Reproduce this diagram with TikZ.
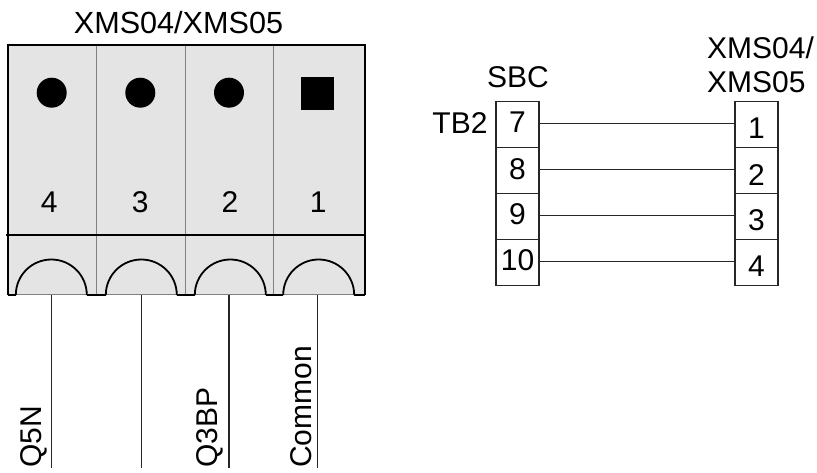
\documentclass[tikz,border=0pt]{standalone}
\usepackage{fontspec}
\setmainfont{Liberation Sans}
\definecolor{cellgray}{HTML}{E4E4E4}

\tikzset{
	heavy/.style={draw=black, line width=1.8pt},
	divider/.style={draw=gray, line width=1pt},
	wire/.style={draw=black!85, line width=1.1pt},
	txt/.style={inner sep=0pt, font=\fontsize{30}{31}\selectfont},
	hole/.style={circle, fill=black, minimum size=30pt, inner sep=0pt},
	pinbox/.style={rectangle, draw=black!85, line width=1.1pt, minimum width=43pt, minimum height=46pt, inner sep=0pt}
}

\newcommand{\xmsdome}[1]{
	\pgfmathsetmacro{\DMa}{#1 - 35.5}
	\draw[heavy] (\DMa, 295) arc[start angle=180, end angle=0, x radius=35.5, y radius=-35.5];
}

\begin{document}
\begin{tikzpicture}[x=1pt, y=-1pt]
\useasboundingbox (0,0) rectangle (817,473);

\pgfmathsetmacro{\xmsL}{7.7}
\pgfmathsetmacro{\xmsR}{365}
\pgfmathsetmacro{\sbcX}{517.5}
\pgfmathsetmacro{\xmsX}{756.5}

% connector block
\fill[cellgray] (\xmsL,45) rectangle (\xmsR,295);
\draw[divider] (96.7,45) -- (96.7,295);
\draw[divider] (185,45) -- (185,295);
\draw[divider] (273.7,45) -- (273.7,295);
\draw[divider] (\xmsL,295) -- (\xmsR,295);
\draw[heavy] (\xmsL,295) -- (\xmsL,45) -- (\xmsR,45) -- (\xmsR,295);
\draw[heavy] (6,235) -- (\xmsR,235);
\draw[heavy] (\xmsL,295) -- (15.8,295);
\draw[heavy] (86.8,295) -- (105.8,295);
\draw[heavy] (176.8,295) -- (194.8,295);
\draw[heavy] (265.8,295) -- (283.2,295);
\draw[heavy] (354.2,295) -- (\xmsR,295);

\xmsdome{51.3}
\xmsdome{141.3}
\xmsdome{230.3}
\xmsdome{318.7}

\node[hole] (holeD) at (51.7,92.7) {};
\node[hole] (holeC) at (140.3,92.7) {};
\node[hole] (holeB) at (229,92.7) {};
\node[rectangle, fill=black, minimum size=33pt, inner sep=0pt] (holeA) at (317.8,93.6) {};

\node[txt, font=\fontsize{30.6}{31}\selectfont] (title) at (178.5,23) {XMS04/XMS05};
\node[txt] (numD) at (49.3,201.7) {4};
\node[txt] (numC) at (140.3,201.7) {3};
\node[txt] (numB) at (230,201.7) {2};
\node[txt] (numA) at (318.3,201.7) {1};

% leads
\coordinate (topD) at (51.7,295);
\coordinate (topC) at (141.7,295);
\coordinate (topB) at (229,295);
\coordinate (topA) at (317.7,295);
\coordinate (endD) at (51.7,468);
\coordinate (endC) at (141.7,468);
\coordinate (endB) at (229,468);
\coordinate (endA) at (317.7,468);
\draw[wire] (topD) -- (endD);
\draw[wire] (topC) -- (endC);
\draw[wire] (topB) -- (endB);
\draw[wire] (topA) -- (endA);
\node[txt, rotate=90, anchor=base west] (leadD) at (41.5,468) {Q5N};
\node[txt, rotate=90, anchor=base west] (leadB) at (217.5,468) {Q3BP};
\node[txt, rotate=90, anchor=base west] (leadA) at (311.5,468) {Common};

% wiring table
\node[pinbox] (sbcA) at (\sbcX,124.2) {};
\node[pinbox] (sbcB) at (\sbcX,170.2) {};
\node[pinbox] (sbcC) at (\sbcX,216.2) {};
\node[pinbox] (sbcD) at (\sbcX,262.2) {};
\node[pinbox] (xmsA) at (\xmsX,124.2) {};
\node[pinbox] (xmsB) at (\xmsX,170.2) {};
\node[pinbox] (xmsC) at (\xmsX,216.2) {};
\node[pinbox] (xmsD) at (\xmsX,262.2) {};

\node[txt] (pinS) at (\sbcX,122) {7};
\node[txt] (pinT) at (\sbcX,169) {8};
\node[txt] (pinU) at (\sbcX,214) {9};
\node[txt] (pinV) at (\sbcX,260) {10};
\node[txt] (pinW) at (\xmsX,128) {1};
\node[txt] (pinX) at (\xmsX,175) {2};
\node[txt] (pinY) at (\xmsX,220) {3};
\node[txt] (pinZ) at (\xmsX,266) {4};

\draw[wire] ([yshift=1pt]sbcA.east) -- ([yshift=1pt]xmsA.west);
\draw[wire] ([yshift=1pt]sbcB.east) -- ([yshift=1pt]xmsB.west);
\draw[wire] ([yshift=1pt]sbcC.east) -- ([yshift=1pt]xmsC.west);
\draw[wire] ([yshift=1pt]sbcD.east) -- ([yshift=1pt]xmsD.west);

\node[txt] (sbcName) at (518,77) {SBC};
\node[txt] (tbName) at (460,123) {TB2};
\node[txt, anchor=base west] (xmsNameA) at (707,59) {XMS04/};
\node[txt, anchor=base west] (xmsNameB) at (707,93) {XMS05};
\end{tikzpicture}
\end{document}
